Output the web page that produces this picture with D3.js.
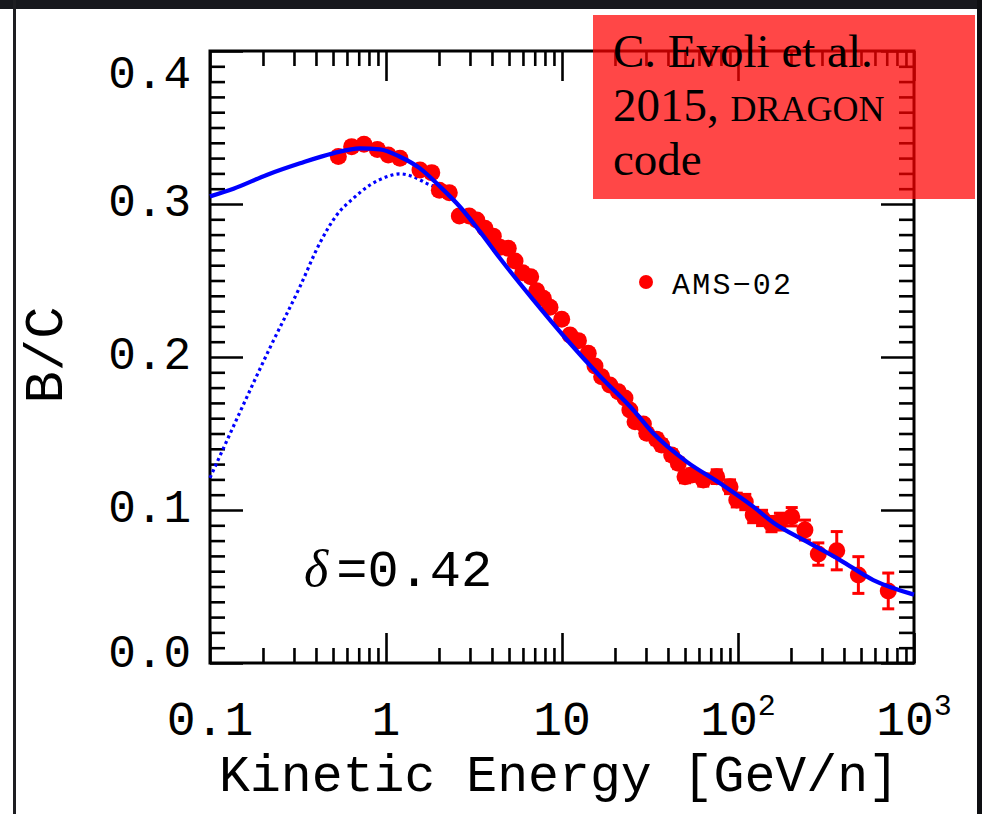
<!DOCTYPE html>
<html>
<head>
<meta charset="utf-8">
<script src="https://cdn.jsdelivr.net/npm/d3@7"></script>
<style>
  html, body { margin: 0; padding: 0; background: #ffffff; }
  svg { display: block; }
</style>
</head>
<body>
<svg id="chart" width="982" height="814"></svg>
<script>
// ---------------- DATA ----------------
// AMS-02 B/C measurements (kinetic energy per nucleon [GeV/n], ratio, error)
const amsE = [0.536, 0.638, 0.75, 0.893, 1.03, 1.20, 1.56, 1.82, 2.01, 2.29,
  2.61, 2.97, 3.28, 3.65, 4.07, 4.44, 4.95, 5.41, 5.98, 6.64,
  7.18, 7.83, 8.55, 9.96, 11.1, 12.4, 14.1, 15.4, 16.8, 18.7,
  20.9, 22.8, 24.3, 26.0, 29.0, 30.3, 34.5, 36.8, 42.0, 45.8,
  50.0, 54.6, 63.5, 75.7, 90.1, 98.4, 110, 122, 137, 155,
  173, 202, 240, 286, 364, 483, 714];
const amsBC = [0.331, 0.3375, 0.339, 0.3357, 0.332, 0.3299, 0.3222, 0.3205, 0.309, 0.3074,
  0.2922, 0.2922, 0.2895, 0.2841, 0.279, 0.2717, 0.271, 0.2627, 0.2551, 0.2525,
  0.2433, 0.2384, 0.2325, 0.2246, 0.2144, 0.2107, 0.2024, 0.1941, 0.1871, 0.1817,
  0.1773, 0.1732, 0.1654, 0.1577, 0.1562, 0.1501, 0.1462, 0.1425, 0.1359, 0.1305,
  0.1218, 0.1229, 0.1196, 0.1218, 0.1152, 0.1065, 0.1052, 0.0967, 0.0948, 0.0908,
  0.0924, 0.0956, 0.0869, 0.0712, 0.0734, 0.0575, 0.0471];
const amsErr = [0.003, 0.003, 0.003, 0.003, 0.003, 0.003, 0.003, 0.003, 0.003, 0.003,
  0.003, 0.003, 0.003, 0.003, 0.003, 0.003, 0.003, 0.003, 0.003, 0.003,
  0.003, 0.003, 0.003, 0.003, 0.003, 0.003, 0.003, 0.003, 0.003, 0.003,
  0.003, 0.003, 0.003, 0.003, 0.003, 0.003, 0.0035, 0.0035, 0.0035, 0.0035,
  0.004, 0.004, 0.004, 0.0045, 0.0045, 0.0045, 0.005, 0.005, 0.005, 0.005,
  0.0055, 0.006, 0.0065, 0.0073, 0.0125, 0.012, 0.0117];

// DRAGON model, solid line
const solidE = [0.1, 0.136, 0.21, 0.325, 0.50, 0.71, 0.925, 1.2, 1.56, 2.03,
  2.63, 3.42, 4.44, 6.87, 10.6, 16.4, 25.4, 33, 51, 79,
  122, 159, 246, 380, 587, 1000];
const solidBC = [0.305, 0.310, 0.319, 0.3266, 0.3331, 0.3364, 0.3357, 0.3309, 0.3233, 0.3113,
  0.2982, 0.2819, 0.2645, 0.2373, 0.2116, 0.1876, 0.1654, 0.1501, 0.1316, 0.1175,
  0.1022, 0.0917, 0.0793, 0.0673, 0.0542, 0.0447];

// DRAGON model, dotted line
const dottedE = [0.1, 0.148, 0.219, 0.324, 0.42, 0.525, 0.652, 0.811, 1.01, 1.20,
  1.43, 1.70, 2.03, 2.4];
const dottedBC = [0.121, 0.164, 0.206, 0.2458, 0.2743, 0.2928, 0.3037, 0.3124, 0.3178, 0.3197,
  0.3178, 0.3135, 0.3095, 0.303];

// Axis ticks
const xMajorTicks = [0.1, 1, 10, 100, 1000];
const xTickBase = ["0.1", "1", "10", "10", "10"];
const xTickExp = ["", "", "", "2", "3"];
const yMajorTicks = [0, 0.1, 0.2, 0.3, 0.4];
const yTickLabels = ["0.0", "0.1", "0.2", "0.3", "0.4"];

// Texts
const xTitle = "Kinetic Energy [GeV/n]";
const yTitle = "B/C";
const legendLabel = "AMS\u221202";
const deltaSymbol = "\u03b4";
const deltaValue = "=0.42";
const creditLines = ["C. Evoli et al.", "2015, ", "DRAGON", "code"];

// ---------------- LAYOUT ----------------
const W = 982, H = 814;
const L = 210, R = 914, T = 51, B = 663;
const mono = "'Liberation Mono', 'DejaVu Sans Mono', monospace";
const serif = "'Liberation Serif', 'DejaVu Serif', serif";

const svg = d3.select("#chart");

// background decoration (dark surround)
svg.append("rect").attr("x", 0).attr("y", 0).attr("width", W).attr("height", H).attr("fill", "#ffffff");
svg.append("rect").attr("x", 0).attr("y", 0).attr("width", W).attr("height", 9).attr("fill", "#17181d");
svg.append("rect").attr("x", 977).attr("y", 0).attr("width", 5).attr("height", H).attr("fill", "#0e0f12");
svg.append("rect").attr("x", 13).attr("y", 0).attr("width", 3).attr("height", H).attr("fill", "#1e1e22");

const x = d3.scaleLog().domain([0.1, 1000]).range([L, R]);
const y = d3.scaleLinear().domain([0, 0.4]).range([B, T]);

// minor ticks
const xMinor = [];
for (let d = 0.1; d < 1000; d *= 10) for (let k = 2; k <= 9; k++) xMinor.push(+(d * k).toPrecision(3));
const yMinor = d3.range(0, 41).map(i => i / 100).filter(v => Math.round(v * 100) % 10 !== 0);

function styleAxis(g) {
  g.select(".domain").remove();
  g.selectAll("line").attr("stroke", "#000").attr("stroke-width", 2.6);
  g.selectAll("text").remove();
}

// bottom & top
svg.append("g").attr("transform", `translate(0,${B})`)
  .call(d3.axisBottom(x).tickValues(xMajorTicks).tickSize(-30).tickFormat("")).call(styleAxis);
svg.append("g").attr("transform", `translate(0,${B})`)
  .call(d3.axisBottom(x).tickValues(xMinor).tickSize(-15).tickFormat("")).call(styleAxis);
svg.append("g").attr("transform", `translate(0,${T})`)
  .call(d3.axisTop(x).tickValues(xMajorTicks).tickSize(-30).tickFormat("")).call(styleAxis);
svg.append("g").attr("transform", `translate(0,${T})`)
  .call(d3.axisTop(x).tickValues(xMinor).tickSize(-15).tickFormat("")).call(styleAxis);
// left & right
svg.append("g").attr("transform", `translate(${L},0)`)
  .call(d3.axisLeft(y).tickValues(yMajorTicks).tickSize(-33).tickFormat("")).call(styleAxis);
svg.append("g").attr("transform", `translate(${L},0)`)
  .call(d3.axisLeft(y).tickValues(yMinor).tickSize(-15).tickFormat("")).call(styleAxis);
svg.append("g").attr("transform", `translate(${R},0)`)
  .call(d3.axisRight(y).tickValues(yMajorTicks).tickSize(-33).tickFormat("")).call(styleAxis);
svg.append("g").attr("transform", `translate(${R},0)`)
  .call(d3.axisRight(y).tickValues(yMinor).tickSize(-15).tickFormat("")).call(styleAxis);

// frame
svg.append("rect").attr("x", L).attr("y", T).attr("width", R - L).attr("height", B - T)
  .attr("fill", "none").attr("stroke", "#000").attr("stroke-width", 3);

// x tick labels
xMajorTicks.forEach((v, i) => {
  const t = svg.append("text").attr("x", x(v)).attr("y", 735)
    .attr("text-anchor", "middle").attr("font-family", mono).attr("font-size", 48).attr("fill", "#000");
  t.append("tspan").text(xTickBase[i]);
  if (xTickExp[i]) t.append("tspan").attr("font-size", 30).attr("dy", -20).text(xTickExp[i]);
});

// y tick labels
yMajorTicks.forEach((v, i) => {
  const yy = Math.min(Math.max(y(v), T + 25), B - 8);
  svg.append("text").attr("x", 191).attr("y", yy)
    .attr("text-anchor", "end").attr("dominant-baseline", "central")
    .attr("font-family", mono).attr("font-size", 46).attr("fill", "#000").text(yTickLabels[i]);
});

// axis titles
svg.append("text").attr("x", 559).attr("y", 791).attr("text-anchor", "middle")
  .attr("font-family", mono).attr("font-size", 51.5).attr("fill", "#000").text(xTitle);
svg.append("text").attr("transform", "translate(47,355) rotate(-90)")
  .attr("text-anchor", "middle").attr("dominant-baseline", "central")
  .attr("font-family", mono).attr("font-size", 54).attr("fill", "#000").text(yTitle);

// model curves
const line = d3.line().x(d => x(d[0])).y(d => y(d[1])).curve(d3.curveMonotoneX);
svg.append("path").datum(dottedE.map((e, i) => [e, dottedBC[i]]))
  .attr("d", line).attr("fill", "none").attr("stroke", "#0000ff")
  .attr("stroke-width", 3.2).attr("stroke-dasharray", "3,3.2");

// data error bars and points
const pts = amsE.map((e, i) => ({ e, v: amsBC[i], err: amsErr[i] }));
const eb = svg.append("g").attr("stroke", "#ff0000").attr("stroke-width", 3);
pts.forEach(p => {
  const cx = x(p.e), y1 = y(p.v + p.err), y2 = y(p.v - p.err);
  eb.append("line").attr("x1", cx).attr("x2", cx).attr("y1", y1).attr("y2", y2);
  eb.append("line").attr("x1", cx - 6).attr("x2", cx + 6).attr("y1", y1).attr("y2", y1);
  eb.append("line").attr("x1", cx - 6).attr("x2", cx + 6).attr("y1", y2).attr("y2", y2);
});
svg.append("g").selectAll("circle").data(pts).join("circle")
  .attr("cx", d => x(d.e)).attr("cy", d => y(d.v)).attr("r", 8.5).attr("fill", "#ff0000");

svg.append("path").datum(solidE.map((e, i) => [e, solidBC[i]]))
  .attr("d", line).attr("fill", "none").attr("stroke", "#0000ff").attr("stroke-width", 4.3);

// legend
svg.append("circle").attr("cx", 646).attr("cy", 282).attr("r", 7).attr("fill", "#ff0000");
svg.append("text").attr("x", 672).attr("y", 294).attr("font-family", mono)
  .attr("font-size", 30).attr("letter-spacing", 2.2).attr("fill", "#000").text(legendLabel);

// delta annotation
const dt = svg.append("text").attr("x", 304).attr("y", 586).attr("font-family", mono)
  .attr("font-size", 52).attr("fill", "#000");
dt.append("tspan").attr("font-style", "italic").attr("font-family", serif).text(deltaSymbol);
dt.append("tspan").attr("dx", 8).text(deltaValue);

// credit box
svg.append("rect").attr("x", 593).attr("y", 15).attr("width", 382).attr("height", 184)
  .attr("fill", "#ff0000").attr("fill-opacity", 0.72);
const cr = svg.append("g").attr("font-family", serif).attr("font-size", 47).attr("fill", "#000");
cr.append("text").attr("x", 613).attr("y", 67).text(creditLines[0]);
const l2 = cr.append("text").attr("x", 613).attr("y", 121);
l2.append("tspan").text(creditLines[1]);
l2.append("tspan").attr("font-size", 36).text(creditLines[2]);
cr.append("text").attr("x", 613).attr("y", 175).text(creditLines[3]);
</script>
</body>
</html>
